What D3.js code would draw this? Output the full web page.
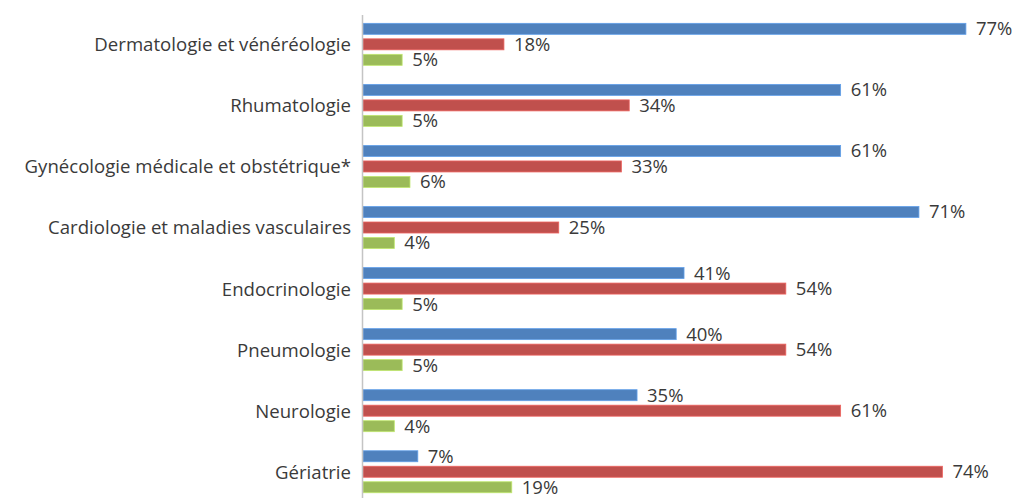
<!DOCTYPE html>
<html>
<head>
<meta charset="utf-8">
<script src="https://cdn.jsdelivr.net/npm/d3@7"></script>
<style>
  body { margin: 0; background: #fff; }
</style>
</head>
<body>
<svg id="drawing_region"></svg>
<script>
const categories = [
    'Dermatologie et vénéréologie',
    'Rhumatologie',
    'Gynécologie médicale et obstétrique*',
    'Cardiologie et maladies vasculaires',
    'Endocrinologie',
    'Pneumologie',
    'Neurologie',
    'Gériatrie'
];
const series = ['bleu', 'rouge', 'vert'];
const values_bleu  = [77, 61, 61, 71, 41, 40, 35, 7];
const values_rouge = [18, 34, 33, 25, 54, 54, 61, 74];
const values_vert  = [5, 5, 6, 4, 5, 5, 4, 19];

const colors = { bleu: '#4f81bd', rouge: '#c0504d', vert: '#9bbb59' };

const data = categories.map((c, i) => ({
    label: c,
    bleu: values_bleu[i],
    rouge: values_rouge[i],
    vert: values_vert[i]
}));

const config = {
    width: 1020,
    height: 498,
    axis_x: 363,
    top: 13.8,
    group_step: 61.06
};

const svg = d3.select('#drawing_region')
    .attr('width', config.width)
    .attr('height', config.height)
    .style('font-family', '"Open Sans", sans-serif');

const xscale = d3.scaleLinear()
    .domain([0, 100])
    .range([config.axis_x, config.axis_x + 783]);

const yscale = d3.scaleBand()
    .domain(categories)
    .range([config.top, config.top + config.group_step * categories.length])
    .padding(0);

const inner = d3.scaleBand()
    .domain(series)
    .range([0, yscale.bandwidth()])
    .paddingInner(0.29)
    .paddingOuter(0.615);

// category labels
const yaxis = d3.axisLeft(yscale)
    .tickSize(0)
    .tickPadding(12);

const yaxis_group = svg.append('g')
    .attr('transform', `translate(${config.axis_x}, 1)`)
    .call(yaxis);
yaxis_group.select('.domain').remove();
yaxis_group.selectAll('text')
    .style('font-family', '"Open Sans", sans-serif')
    .style('font-size', '18.6px')
    .attr('fill', '#3a3a3a');

const groups = svg.selectAll('.group')
    .data(data)
    .enter()
    .append('g')
    .attr('class', 'group')
    .attr('transform', d => `translate(0, ${yscale(d.label)})`);

series.forEach(s => {
    groups.append('rect')
        .attr('x', xscale(0))
        .attr('y', inner(s))
        .attr('width', d => xscale(d[s]) - xscale(0))
        .attr('height', inner.bandwidth())
        .attr('fill', colors[s])
        .attr('stroke', d3.color(colors[s]).brighter(0.6))
        .attr('stroke-width', 0.8);

    groups.append('text')
        .attr('x', d => xscale(d[s]) + 10)
        .attr('y', inner(s) + inner.bandwidth() / 2)
        .attr('dy', '0.35em')
        .style('font-size', '18.5px')
        .attr('fill', '#3a3a3a')
        .text(d => d[s] + '%');
});

// vertical axis line
svg.append('line')
    .attr('x1', config.axis_x - 0.5)
    .attr('x2', config.axis_x - 0.5)
    .attr('y1', 15)
    .attr('y2', config.height)
    .attr('stroke', '#c4c4c4')
    .attr('stroke-width', 1.5);
</script>
</body>
</html>
